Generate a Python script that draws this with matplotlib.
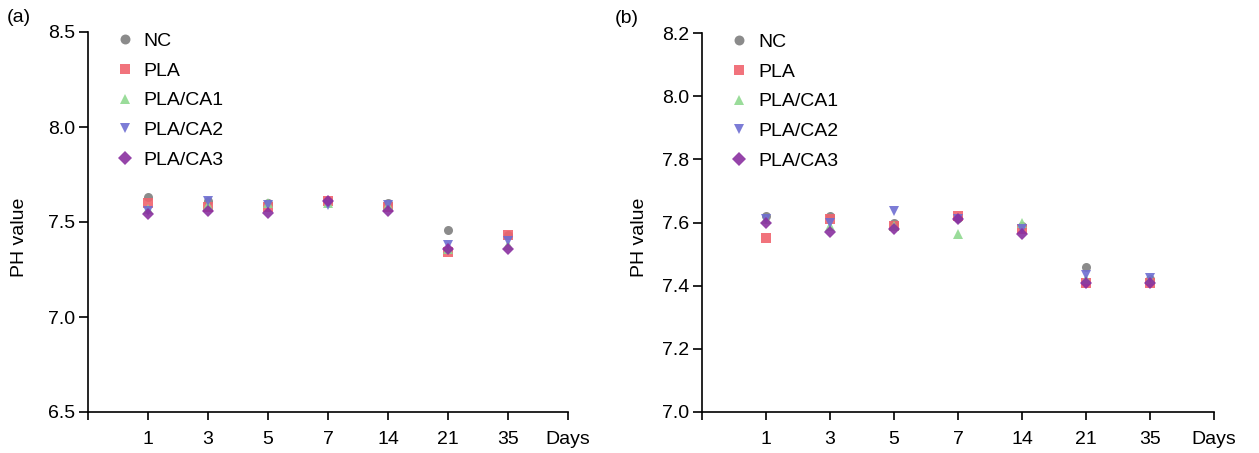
import matplotlib
matplotlib.use("Agg")
import matplotlib.pyplot as plt

plt.rcParams["font.family"] = ["Liberation Sans", "DejaVu Sans"]

days = ["1", "3", "5", "7", "14", "21", "35"]
series = ["NC", "PLA", "PLA/CA1", "PLA/CA2", "PLA/CA3"]

# Panel (a)
a_NC = [7.63, 7.61, 7.60, 7.61, 7.60, 7.46, 7.43]
a_PLA = [7.60, 7.58, 7.58, 7.61, 7.58, 7.34, 7.43]
a_CA1 = [7.57, 7.59, 7.60, 7.60, 7.59, 7.36, 7.38]
a_CA2 = [7.56, 7.61, 7.59, 7.59, 7.59, 7.38, 7.40]
a_CA3 = [7.54, 7.56, 7.55, 7.61, 7.56, 7.36, 7.36]

# Panel (b)
b_NC = [7.62, 7.62, 7.60, 7.615, 7.59, 7.46, 7.42]
b_PLA = [7.55, 7.61, 7.59, 7.62, 7.58, 7.41, 7.41]
b_CA1 = [7.61, 7.59, 7.59, 7.565, 7.60, 7.42, 7.42]
b_CA2 = [7.61, 7.60, 7.635, 7.61, 7.58, 7.435, 7.425]
b_CA3 = [7.60, 7.57, 7.58, 7.61, 7.565, 7.41, 7.41]

colors = ["#7f7f7f", "#f0646e", "#8fd98f", "#6e6ed2", "#8a2fa0"]
markers = ["o", "s", "^", "v", "D"]

fig = plt.figure(figsize=(12.59, 4.53), dpi=100)
axA = fig.add_axes([88/1259, 41/453, 480/1259, 380/453])
axB = fig.add_axes([702/1259, 41/453, 512/1259, 379/453])

FS = 14

def draw(ax, data, ylim, yticks, label, labx):
    x = list(range(1, len(days) + 1))
    for vals, name, c, m in zip(data, series, colors, markers):
        ax.plot(x, vals, linestyle="none", marker=m, color=c, markersize=6.5,
                markeredgewidth=0, alpha=0.9, label=name)
    ax.set_xlim(0, 8)
    ax.set_ylim(*ylim)
    ax.set_xticks(list(range(1, 9)))
    ax.set_xticklabels(days + ["Days"], fontsize=FS)
    ax.set_yticks(yticks)
    ax.set_yticklabels([f"{t:.1f}" for t in yticks], fontsize=FS)
    ax.tick_params(axis="x", direction="out", length=6, width=1.2, pad=8)
    ax.tick_params(axis="y", direction="out", length=6.5, width=1.2, pad=3)
    for s in ["top", "right"]:
        ax.spines[s].set_visible(False)
    for s in ["left", "bottom"]:
        ax.spines[s].set_linewidth(1.2)
    # y spine continues a little below the x axis
    ax.plot([0, 0], [0, -0.022], transform=ax.transAxes, color="black",
            linewidth=1.2, clip_on=False, solid_capstyle="butt")
    ax.set_ylabel("PH value", fontsize=FS)
    ax.yaxis.set_label_coords(labx, 0.46)
    ax.legend(loc="upper left", bbox_to_anchor=(0.02, 1.045), frameon=False,
              fontsize=FS, handlelength=1.0, handletextpad=0.45,
              labelspacing=0.62, markerscale=1.1)
    ax.text(-0.17, 1.037, label, transform=ax.transAxes, fontsize=FS,
            ha="left", va="center")

draw(axA, [a_NC, a_PLA, a_CA1, a_CA2, a_CA3], (6.5, 8.5),
     [6.5, 7.0, 7.5, 8.0, 8.5], "(a)", -0.125)
draw(axB, [b_NC, b_PLA, b_CA1, b_CA2, b_CA3], (7.0, 8.2),
     [7.0, 7.2, 7.4, 7.6, 7.8, 8.0, 8.2], "(b)", -0.105)

fig.savefig("out.png", dpi=100)
